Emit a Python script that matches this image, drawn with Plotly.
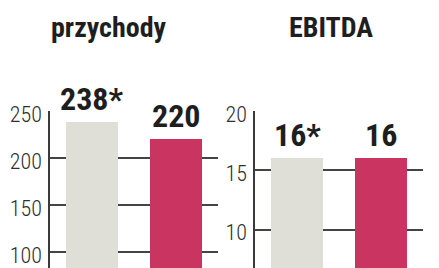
import plotly.graph_objects as go
from plotly.subplots import make_subplots

categories = ["prev", "curr"]
przychody = [238, 220]
przychody_labels = ["238*", "220"]
ebitda = [16, 16]
ebitda_labels = ["16*", "16"]
titles = ["przychody", "EBITDA"]
colors = ["#dfdfd8", "#ca3460"]

W, H = 439, 268
FONT = "Roboto Condensed, Roboto, sans-serif"
fig = make_subplots(rows=1, cols=2)

fig.add_trace(go.Bar(x=categories, y=przychody, marker_color=colors, marker_line_width=0,
                     width=0.63, showlegend=False, hoverinfo="skip"), row=1, col=1)
fig.add_trace(go.Bar(x=categories, y=ebitda, marker_color=colors, marker_line_width=0,
                     width=0.63, showlegend=False, hoverinfo="skip"), row=1, col=2)

for xr, yr, vals, labs in [("x", "y", przychody, przychody_labels), ("x2", "y2", ebitda, ebitda_labels)]:
    for c, v, t in zip(categories, vals, labs):
        fig.add_annotation(x=c, y=v, xref=xr, yref=yr, text="<b>%s</b>" % t, showarrow=False,
                           yanchor="bottom", xanchor="center", yshift=2,
                           font=dict(family=FONT, size=32, color="#1e1e1e"))

for cx, t in zip([109 / W, 331 / W], titles):
    fig.add_annotation(x=cx, y=1 - 28 / H, xref="paper", yref="paper", text="<b>%s</b>" % t,
                       showarrow=False, xanchor="center", yanchor="middle",
                       font=dict(family=FONT, size=28, color="#1e1e1e"))

ydom = [0, (H - 111) / H]
fig.update_xaxes(visible=False, range=[-0.5, 1.5], automargin=False)
fig.update_layout(
    xaxis=dict(domain=[50 / W, 218 / W]),
    xaxis2=dict(domain=[255 / W, 423 / W]),
    yaxis=dict(domain=ydom, range=[83.3, 250], dtick=50),
    yaxis2=dict(domain=ydom, range=[6.76, 20], dtick=5),
)
fig.update_yaxes(showgrid=True, gridcolor="#444444", gridwidth=1.6, zeroline=False,
                 showline=True, linecolor="#3a3a3a", linewidth=1.5, ticks="",
                 automargin=False, ticklabelstandoff=2, ticklabelshift=3,
                 tickfont=dict(family=FONT, size=22, color="#2e2e2e", weight=300))
fig.update_layout(width=W, height=H, margin=dict(l=0, r=0, t=0, b=0, pad=0),
                  paper_bgcolor="white", plot_bgcolor="white", bargap=0)
fig.write_html("out.html")
